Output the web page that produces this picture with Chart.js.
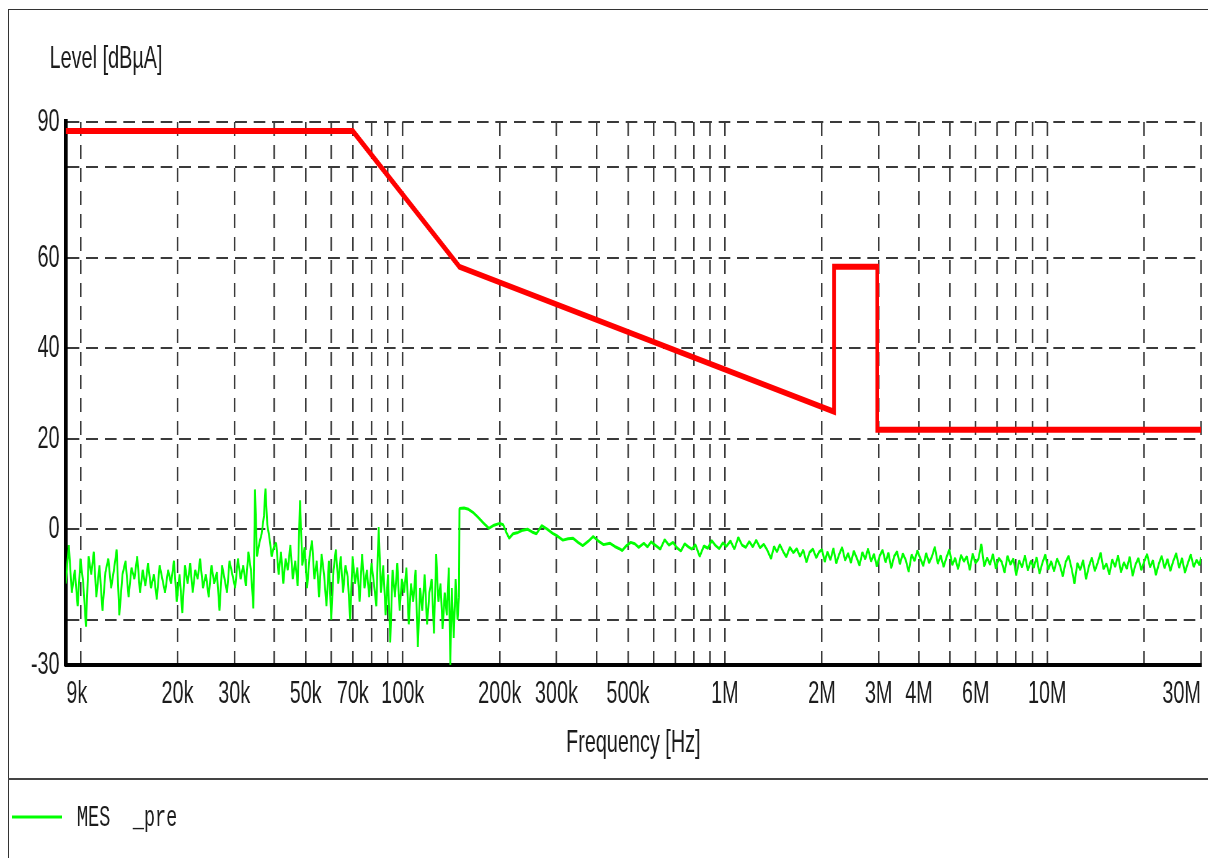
<!DOCTYPE html>
<html>
<head>
<meta charset="utf-8">
<script src="https://cdn.jsdelivr.net/npm/chart.js@4.4.1/dist/chart.umd.min.js"></script>
<style>
  html, body { margin: 0; padding: 0; background: #fff; overflow: hidden; }
  #frame { position: absolute; left: 8px; top: 9px; width: 1300px; height: 900px;
           border-left: 1.5px solid #333; border-top: 1.5px solid #333; }
  #sep { position: absolute; left: 8px; top: 778px; width: 1300px; height: 0;
         border-top: 2px solid #444; }
  /* the reference is horizontally squeezed, so draw wide and squeeze */
  #wrap { position: absolute; left: 0; top: 0; width: 1948px; height: 858px;
          transform: scaleX(0.62); transform-origin: 0 0; }
</style>
</head>
<body>
<div id="frame"></div>
<div id="sep"></div>
<div id="wrap"><canvas id="chart" width="1948" height="858"></canvas></div>
<script>
// ── limit line (kHz / dBµA) ──
const limitFreqKHz = [9, 70, 150, 2180, 2180, 2970, 2970, 30000];
const limitLevel   = [88, 88, 58, 26, 58, 58, 22, 22];

// ── measurement trace, 9k–150k ──
const lowFreqKHz = [
  9.0, 9.2, 9.4, 9.6, 9.8, 10.0, 10.2, 10.4, 10.6, 10.8,
  11.0, 11.2, 11.45, 11.7, 11.95, 12.2, 12.45, 12.7, 12.95, 13.2,
  13.5, 13.8, 14.1, 14.4, 14.7, 15.0, 15.3, 15.6, 15.9, 16.2,
  16.55, 16.9, 17.25, 17.6, 17.95, 18.3, 18.7, 19.1, 19.5, 19.9,
  20.3, 20.7, 21.1, 21.5, 21.9, 22.3, 22.7, 23.1, 23.5, 24.0,
  24.5, 25.0, 25.5, 26.0, 26.5, 27.0, 27.5, 28.0, 28.5, 29.0,
  29.6, 30.2, 30.8, 31.4, 32.0, 32.6, 33.2, 33.8, 34.4, 34.8,
  35.3, 35.9, 36.5, 37.1, 37.5, 38.0, 38.6, 39.2, 39.8, 40.5,
  41.2, 41.9, 42.6, 43.3, 44.0, 44.8, 45.6, 46.4, 47.2, 48.0,
  48.8, 49.6, 50.5, 51.4, 52.3, 53.2, 54.1, 55.0, 56.0, 57.0,
  58.0, 59.0, 60.0, 61.0, 62.0, 63.1, 64.2, 65.3, 66.4, 67.5,
  68.7, 69.9, 71.1, 72.3, 73.5, 74.8, 76.1, 77.4, 78.7, 80.0,
  81.4, 82.8, 84.2, 85.6, 87.0, 88.5, 90.0, 91.5, 93.0, 94.6,
  96.2, 97.8, 99.4, 101, 102.7, 104.4, 106.1, 107.8, 109.6, 111.4,
  113.2, 115, 117, 119, 121, 123, 125, 127, 129, 131,
  133, 135, 137, 139, 140.5, 142, 144, 146, 148, 149.5
];
const lowLevel = [
  -12, -3.5, -14, -9, -17, -6.5, -12, -21.5, -6, -10,
  -5, -15, -8, -18, -9.5, -6.5, -13, -9, -4.5, -19,
  -10, -7, -15, -8.5, -11, -6, -14, -9, -12.5, -7.5,
  -13, -10, -15.5, -8, -11, -14, -9, -12, -7, -16,
  -10, -18.5, -8, -12, -7.5, -14, -9, -11, -6.5, -13,
  -10, -15, -8, -12, -9.5, -18, -8, -11, -14, -7,
  -10, -13, -6.5, -11, -8, -12.5, -5, -9, -17.5, 8.8,
  -6, -3, -1, 3, 9, 1, -2, -6, -4, -3,
  -10, -5, -12, -6.5, -9, -3.5, -11, -7, -12.5, 6.4,
  -8, -4, -13, -6, -2.5, -11, -7, -15, -5.5, -10,
  -17, -7, -20, -9, -4.5, -12, -6, -14, -8, -10.5,
  -20, -6, -12, -8.5, -16, -5.5, -13, -9, -15, -7.5,
  -12, -17, 0.5, -14, -8, -19, -10, -25, -9, -15,
  -7.5, -18, -11, -14, -8.5, -21, -12, -16, -9, -26,
  -13, -18, -10, -21, -14, -11, -23, -5.5, -16, -12,
  -22, -14, -19, -8.5, -30, -13, -24, -11, -20, -15
];

// ── measurement trace, 150k–2M ──
const midFreqKHz = [
  150, 155, 160, 166, 171, 178, 185, 192, 200, 205,
  210, 214, 220, 228, 236, 244, 252, 260, 270, 280,
  292, 302, 314, 326, 338, 350, 362, 376, 390, 405,
  420, 440, 455, 470, 480, 495, 510, 525, 540, 560,
  575, 590, 610, 630, 650, 670, 690, 710, 730, 750,
  770, 790, 810, 835, 860, 885, 910, 935, 960, 985,
  1010, 1040, 1070, 1100, 1130, 1160, 1190, 1220, 1250, 1285,
  1320, 1355, 1390, 1420, 1450, 1480, 1515, 1550, 1590, 1630,
  1670, 1710, 1750, 1790, 1830, 1875, 1920, 1960
];
const midLevel = [
  4.6, 4.7, 4.4, 3.6, 2.7, 1.4, 0.2, 0.9, 1.3, 1.0,
  -0.8, -2.0, -1.0, -0.7, -0.2, 0.0, -0.6, -1.0, 0.8, 0.1,
  -0.9, -1.5, -2.4, -2.1, -2.0, -2.9, -3.6, -2.7, -1.6, -2.6,
  -3.4, -3.1, -3.8, -4.3, -4.7, -3.6, -2.9, -3.2, -4.0, -3.1,
  -3.9, -2.8, -3.6, -4.4, -2.3, -3.5, -2.9, -4.1, -4.8, -3.2,
  -3.9, -4.4, -3.4, -6.0, -3.7, -4.2, -2.5, -3.6, -4.3, -3.0,
  -3.8, -2.6, -4.4, -1.8, -3.5, -4.0, -2.7, -3.9, -2.4, -4.1,
  -3.3, -4.7, -6.5, -3.8, -5.0, -3.4, -4.9, -6.1, -4.0, -5.2,
  -4.3, -6.0, -4.6, -7.3, -5.1, -4.4, -6.3, -5.0
];

// ── measurement trace, 2M–30M ──
const highFreqKHz = [
  2000, 2040, 2080, 2125, 2170, 2215, 2260, 2310, 2360, 2410,
  2460, 2510, 2560, 2615, 2670, 2725, 2780, 2840, 2900, 2960,
  3020, 3085, 3150, 3215, 3280, 3350, 3420, 3490, 3565, 3640,
  3715, 3795, 3875, 3955, 4040, 4125, 4210, 4300, 4390, 4480,
  4575, 4670, 4770, 4870, 4970, 5075, 5180, 5290, 5400, 5515,
  5630, 5750, 5870, 5990, 6115, 6245, 6375, 6510, 6645, 6785,
  6930, 7075, 7225, 7375, 7530, 7690, 7850, 8015, 8185, 8355,
  8530, 8710, 8895, 9080, 9270, 9465, 9665, 9870, 10075, 10290,
  10505, 10725, 10950, 11180, 11415, 11655, 11900, 12150, 12405, 12665,
  12930, 13200, 13480, 13760, 14050, 14345, 14645, 14955, 15270, 15590,
  15915, 16250, 16590, 16940, 17295, 17660, 18030, 18410, 18795, 19190,
  19595, 20005, 20425, 20855, 21290, 21740, 22195, 22660, 23135, 23620,
  24120, 24625, 25140, 25670, 26210, 26760, 27320, 27895, 28480, 29080,
  29690, 30000
];
const highLevel = [
  -4.5, -7.2, -5.0, -6.8, -4.2, -7.5, -5.6, -4.0, -6.9, -5.3,
  -7.4, -4.8, -6.2, -8.0, -5.1, -6.6, -4.3, -7.1, -5.5, -8.2,
  -5.9, -4.6, -7.3, -5.2, -8.6, -6.0, -4.9, -7.7, -5.4, -6.8,
  -9.4, -5.6, -7.0, -4.7, -6.5, -8.1, -5.3, -7.4, -6.0, -3.9,
  -7.6, -5.8, -8.3, -6.2, -4.5, -7.9, -6.4, -8.8, -5.7, -7.1,
  -6.0, -9.0, -5.4, -7.5, -6.6, -3.3, -8.2, -6.3, -7.8, -5.5,
  -8.7, -6.4, -7.2, -9.6, -5.9, -7.8, -6.5, -10.2, -6.9, -8.4,
  -5.8, -9.1, -7.0, -8.5, -6.2, -9.8, -7.4, -5.6, -8.9, -7.1,
  -9.3, -6.5, -8.0, -10.4, -7.2, -5.9, -8.6, -12.0, -7.5, -9.0,
  -6.8, -11.0, -8.1, -6.3, -9.2, -7.4, -5.2, -8.8, -7.6, -10.0,
  -6.7, -8.3, -5.8, -9.5, -7.3, -8.7, -6.1, -10.3, -7.8, -6.4,
  -9.0, -7.1, -5.5, -8.4, -6.9, -10.1, -7.7, -5.9, -8.6, -6.6,
  -9.2, -7.0, -5.3, -8.5, -6.4, -9.6, -7.5, -5.6, -8.3, -6.8,
  -7.9, -6.2
];

// ── axes ──
const xGridKHz = [9, 10, 20, 30, 40, 50, 60, 70, 80, 90,
  100, 200, 300, 400, 500, 600, 700, 800, 900,
  1000, 2000, 3000, 4000, 5000, 6000, 7000, 8000, 9000,
  10000, 20000, 30000];
const xLabelKHz  = [9, 20, 30, 50, 70, 100, 200, 300, 500, 1000, 2000, 3000, 4000, 6000, 10000, 30000];
const xLabelText = ['    9k', '20k', '30k', '50k', '70k', '100k', '200k', '300k', '500k', '1M', '2M', '3M', '4M', '6M', '10M', '30M       '];
const yGrid   = [-30, -20, 0, 20, 40, 60, 80, 90];
const yLabels = [-30, 0, 20, 40, 60, 90];

const SANS = "'Liberation Sans', Arial, sans-serif";
const MONO = "'Liberation Mono', 'Courier New', monospace";
const TEXT = '#1c1c1c';
const GRID = '#3a3a3a';

const toXY = (xs, ys) => xs.map((x, i) => ({ x, y: ys[i] }));
const measFreq  = [...lowFreqKHz, ...midFreqKHz, ...highFreqKHz];
const measLevel = [...lowLevel, ...midLevel, ...highLevel];

// unit label + legend in the lower panel
const decor = {
  id: 'decor',
  afterDraw(chart) {
    const { ctx, chartArea } = chart;
    ctx.save();
    ctx.fillStyle = TEXT;
    ctx.font = `32px ${SANS}`;
    ctx.textBaseline = 'alphabetic';
    ctx.fillText('Level [dBµA]', chartArea.left - 26, chartArea.top - 54);

    let y = chartArea.bottom + 152;
    chart.data.datasets.filter(d => d.inLegend).forEach(d => {
      ctx.strokeStyle = d.borderColor;
      ctx.lineWidth = 3;
      ctx.beginPath();
      ctx.moveTo(19, y);
      ctx.lineTo(100, y);
      ctx.stroke();
      ctx.fillStyle = TEXT;
      ctx.font = `30px ${MONO}`;
      ctx.textBaseline = 'middle';
      ctx.fillText(d.label, 124, y + 1);
      y += 36;
    });
    ctx.restore();
  }
};

new Chart(document.getElementById('chart'), {
  type: 'line',
  data: {
    datasets: [
      {
        label: 'Limit',
        data: toXY(limitFreqKHz, limitLevel),
        borderColor: '#ff0000',
        borderWidth: 6,
        borderJoinStyle: 'miter',
        pointRadius: 0,
        tension: 0,
        order: 0,
      },
      {
        label: 'MES  _pre',
        inLegend: true,
        data: toXY(measFreq, measLevel),
        borderColor: '#00ff00',
        borderWidth: 3,
        borderJoinStyle: 'bevel',
        pointRadius: 0,
        tension: 0,
        order: 1,
      },
    ]
  },
  options: {
    responsive: false,
    animation: false,
    devicePixelRatio: 1,
    layout: { padding: { top: 122, right: 11, bottom: 96, left: 0 } },
    plugins: { legend: { display: false }, tooltip: { enabled: false } },
    scales: {
      x: {
        type: 'logarithmic',
        min: 9,
        max: 30000,
        afterBuildTicks: s => { s.ticks = xGridKHz.map(v => ({ value: v })); },
        afterFit: s => { s.height = 97; s.paddingLeft = 0; s.paddingRight = 0; },
        ticks: {
          autoSkip: false, maxRotation: 0, minRotation: 0, padding: 10,
          color: TEXT, font: { family: SANS, size: 32 },
          callback: v => { const i = xLabelKHz.indexOf(v); return i >= 0 ? xLabelText[i] : ''; }
        },
        grid: { color: GRID, lineWidth: 2.5, drawTicks: false },
        border: { display: true, color: '#000', width: 4, dash: [14, 9] },
        title: { display: true, text: 'Frequency [Hz]', color: TEXT, font: { family: SANS, size: 32 }, padding: { top: 0, bottom: 0 } }
      },
      y: {
        min: -30,
        max: 90,
        afterBuildTicks: s => { s.ticks = yGrid.map(v => ({ value: v })); },
        afterFit: s => { s.width = 106; s.paddingTop = 0; s.paddingBottom = 0; },
        ticks: {
          autoSkip: false, padding: 10,
          color: TEXT, font: { family: SANS, size: 32 },
          callback: v => yLabels.includes(v) ? String(v) : ''
        },
        grid: { color: GRID, lineWidth: 2, drawTicks: false },
        border: { display: true, color: '#000', width: 6, dash: [19, 11] }
      }
    }
  },
  plugins: [decor]
});
</script>
</body>
</html>
